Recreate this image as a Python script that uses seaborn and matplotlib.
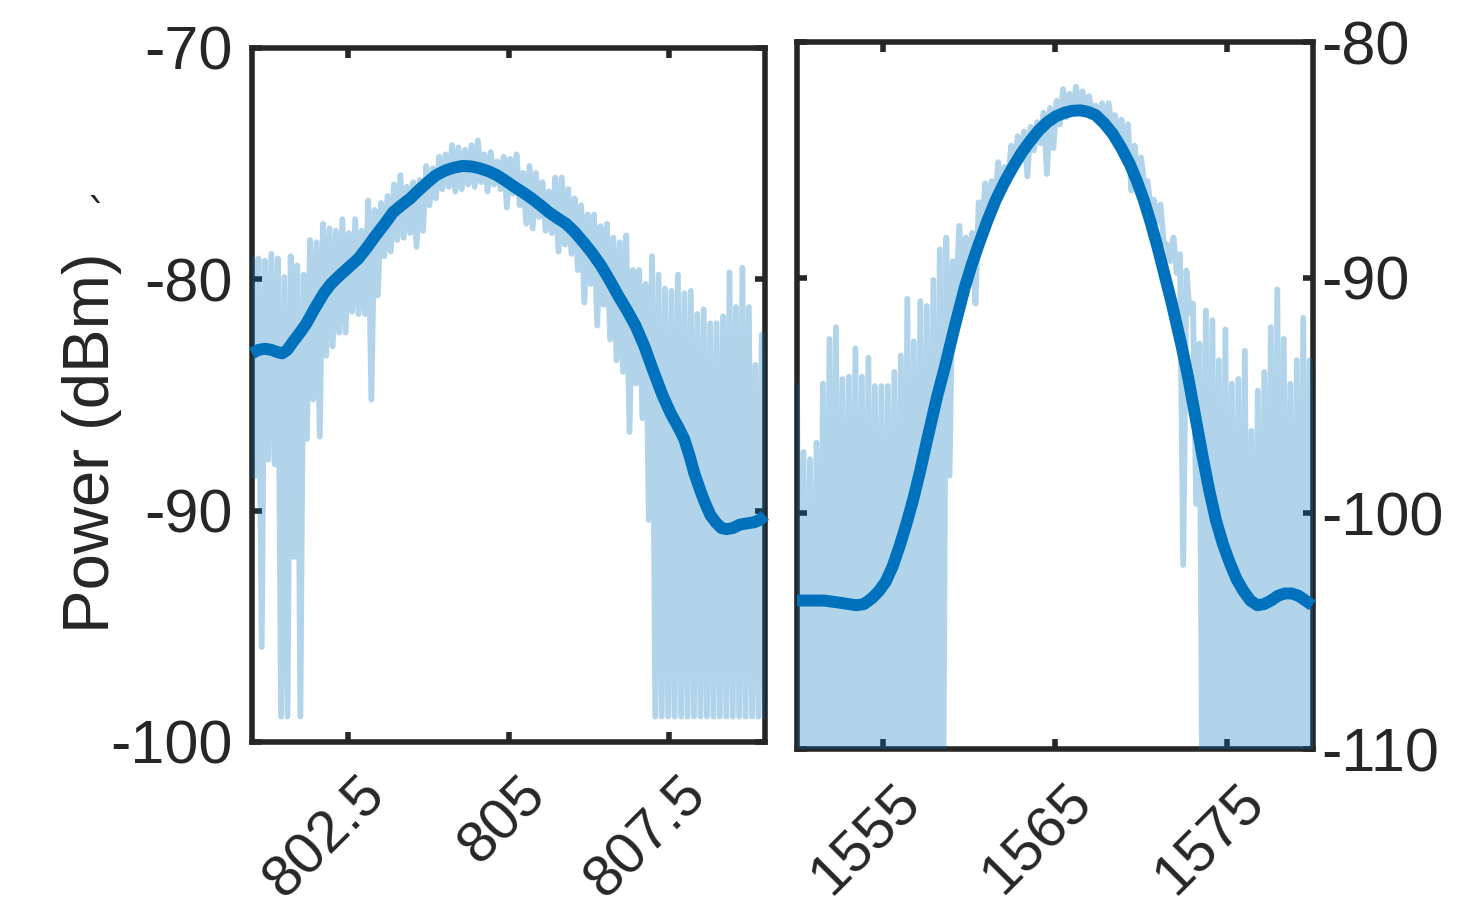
import numpy as np
import matplotlib
matplotlib.use('Agg')
import matplotlib.pyplot as plt
import matplotlib.transforms as mtransforms
import seaborn as sns

# ---- 800 nm band (left panel) ----
# raw spectrum: alternating local maxima / minima
nir_peak = [-79.1, -79.1, -79.2, -78.9, -79.1, -79.9, -79.0, -79.4, -79.8, -78.3,
            -78.4, -77.6, -77.8, -77.9, -77.4, -78.0, -77.4, -77.9, -76.6, -77.0,
            -76.7, -76.4, -75.9, -75.5, -76.0, -75.8, -75.7, -75.1, -75.2, -74.7,
            -74.6, -74.2, -74.3, -74.4, -74.2, -74.0, -74.6, -74.5, -74.9, -74.7,
            -74.8, -74.6, -75.4, -75.1, -75.4, -75.8, -76.2, -75.6, -75.6, -76.1,
            -76.5, -76.8, -77.2, -77.2, -77.7, -77.6, -78.2, -78.4, -78.1, -79.6,
            -79.6, -80.2, -79.0, -79.8, -80.4, -80.5, -79.8, -80.6, -80.5, -81.5,
            -81.3, -81.9, -81.9, -81.6, -79.7, -81.2, -79.5, -81.2, -83.7, -82.4]
nir_dip = [-88.5, -95.9, -87.8, -88.0, -98.9, -98.9, -92.0, -98.9, -86.9, -85.2,
           -86.8, -83.3, -82.9, -82.3, -82.3, -81.4, -81.5, -81.5, -85.2, -80.7,
           -79.0, -78.8, -78.3, -78.2, -78.0, -78.6, -77.9, -76.8, -76.5, -76.1,
           -76.0, -76.2, -76.1, -75.9, -76.0, -75.8, -76.2, -75.9, -76.1, -76.9,
           -76.3, -76.8, -77.6, -77.8, -77.3, -77.9, -78.0, -78.8, -78.5, -78.9,
           -79.6, -81.0, -80.2, -82.0, -81.1, -82.6, -83.5, -84.0, -86.6, -84.5,
           -86.0, -90.4, -98.9, -98.9, -98.9, -98.9, -98.9, -98.9, -98.9, -98.9,
           -98.9, -98.9, -98.9, -98.9, -98.9, -98.9, -98.9, -98.9, -98.9, -98.9]
# smoothed fit
nir_fit_x = [801.00, 801.10, 801.20, 801.30, 801.40, 801.47, 801.55, 801.64, 801.75, 801.85,
             801.98, 802.12, 802.23, 802.34, 802.50, 802.66, 802.80, 802.93, 803.07, 803.20,
             803.33, 803.47, 803.60, 803.74, 803.87, 804.01, 804.15, 804.28, 804.42, 804.55,
             804.69, 804.82, 804.95, 805.09, 805.23, 805.36, 805.50, 805.63, 805.76, 805.90,
             806.03, 806.17, 806.30, 806.44, 806.57, 806.71, 806.85, 806.98, 807.12, 807.25,
             807.40, 807.53, 807.65, 807.74, 807.82, 807.90, 808.00, 808.07, 808.15, 808.23,
             808.32, 808.40, 808.50, 808.61, 808.72, 808.83, 808.92, 809.00]
nir_fit_y = [-83.2, -83.05, -83.0, -83.05, -83.15, -83.2, -83.05, -82.7, -82.3, -81.9,
             -81.25, -80.6, -80.2, -79.9, -79.5, -79.1, -78.6, -78.1, -77.6, -77.1,
             -76.8, -76.5, -76.15, -75.8, -75.5, -75.3, -75.17, -75.1, -75.12, -75.2,
             -75.33, -75.5, -75.73, -76.0, -76.25, -76.5, -76.8, -77.1, -77.35, -77.6,
             -77.95, -78.4, -78.85, -79.4, -80.0, -80.7, -81.35, -82.0, -82.9, -83.9,
             -85.0, -85.8, -86.4, -86.9, -87.6, -88.4, -89.2, -89.7, -90.2, -90.5,
             -90.75, -90.8, -90.75, -90.6, -90.55, -90.5, -90.4, -90.2]
nir_xlim = (801, 809)
nir_ylim = (-100, -70)
nir_xticks = [802.5, 805, 807.5]
nir_xticklabels = ['802.5', '805', '807.5']
nir_yticks = [-100, -90, -80, -70]
nir_yticklabels = ['-100', '-90', '-80', '-70']

# ---- 1550 nm band (right panel) ----
cb_peak = [-94.6, -97.4, -97.7, -97.0, -94.5, -92.6, -92.1, -94.3, -94.2, -93.0,
           -94.2, -93.4, -94.6, -94.6, -94.6, -94.0, -93.3, -90.9, -92.7, -91.0,
           -91.2, -90.1, -88.8, -88.3, -89.3, -87.8, -88.3, -88.1, -86.8, -86.0,
           -85.9, -85.1, -85.3, -84.4, -84.0, -83.8, -83.6, -83.4, -83.0, -82.8,
           -82.5, -82.0, -82.2, -81.9, -82.1, -82.3, -82.7, -82.6, -82.6, -83.1,
           -83.3, -83.5, -84.4, -84.9, -85.9, -86.7, -86.9, -88.6, -88.3, -89.0,
           -89.7, -91.1, -92.8, -91.4, -91.8, -93.5, -92.2, -94.5, -94.3, -93.1,
           -96.5, -94.8, -94.0, -92.1, -90.5, -92.6, -94.5, -93.5, -91.7, -93.5]
cb_dip = [-116, -115, -117, -114, -116, -115, -118, -114, -116, -115,
          -117, -115, -114, -116, -115, -118, -114, -116, -115, -117,
          -115, -116, -114, -98.4, -91.0, -90.7, -90.0, -91.1, -88.0, -87.5,
          -87.0, -86.3, -86.0, -85.4, -85.0, -85.7, -84.6, -84.3, -85.6, -84.5,
          -83.5, -83.2, -83.0, -83.0, -83.0, -83.1, -83.3, -83.5, -83.6, -84.0,
          -84.5, -86.3, -85.5, -86.0, -87.0, -87.6, -88.5, -89.3, -89.8, -102.2,
          -91.5, -99.6, -115, -116, -114, -117, -115, -116, -118, -115,
          -114, -116, -115, -117, -114, -116, -115, -118, -116, -115]
cb_fit_x = [1550.00, 1550.80, 1551.56, 1552.06, 1552.56, 1553.00, 1553.46, 1553.90, 1554.36, 1554.76,
            1555.16, 1555.56, 1555.96, 1556.36, 1556.76, 1557.16, 1557.56, 1557.86, 1558.16, 1558.56,
            1558.86, 1559.16, 1559.46, 1559.76, 1560.16, 1560.56, 1561.06, 1561.56, 1562.06, 1562.56,
            1563.06, 1563.56, 1564.06, 1564.56, 1565.06, 1565.56, 1566.00, 1566.46, 1566.90, 1567.36,
            1567.86, 1568.36, 1568.86, 1569.36, 1569.76, 1570.16, 1570.56, 1570.96, 1571.36, 1571.76,
            1572.06, 1572.36, 1572.76, 1573.16, 1573.56, 1573.96, 1574.36, 1574.76, 1575.16, 1575.56,
            1575.96, 1576.36, 1576.76, 1577.16, 1577.56, 1577.96, 1578.36, 1578.76, 1579.16, 1579.56,
            1579.96]
cb_fit_y = [-103.7, -103.7, -103.7, -103.75, -103.8, -103.85, -103.9, -103.85, -103.6, -103.3,
            -102.9, -102.25, -101.4, -100.45, -99.4, -98.2, -96.9, -95.95, -95.0, -93.9,
            -93.0, -92.1, -91.25, -90.4, -89.45, -88.6, -87.6, -86.7, -85.95, -85.3,
            -84.7, -84.2, -83.75, -83.4, -83.15, -83.0, -82.92, -82.9, -82.96, -83.1,
            -83.45, -83.9, -84.5, -85.2, -85.9, -86.7, -87.65, -88.7, -89.85, -91.0,
            -91.95, -92.9, -94.3, -95.9, -97.5, -99.0, -100.3, -101.3, -102.1, -102.8,
            -103.3, -103.7, -103.9, -103.85, -103.7, -103.5, -103.4, -103.4, -103.5, -103.7,
            -103.9]
cb_xlim = (1550, 1580)
cb_ylim = (-110, -80)
cb_xticks = [1555, 1565, 1575]
cb_xticklabels = ['1555', '1565', '1575']
cb_yticks = [-110, -100, -90, -80]
cb_yticklabels = ['-110', '-100', '-90', '-80']

BLUE = '#0072BD'
INK = '#262626'

sns.set_style('white')
plt.rcParams['font.family'] = ['Liberation Sans', 'DejaVu Sans']
plt.rcParams['axes.unicode_minus'] = False

W, H = 1482, 915
fig = plt.figure(figsize=(W / 100, H / 100), dpi=100)
ax1 = fig.add_axes([252 / W, 1 - 742 / H, 513 / W, 694 / H])
ax2 = fig.add_axes([797 / W, 1 - 749 / H, 516 / W, 707 / H])


def draw(ax, peak, dip, xlim, fit_x, fit_y):
    raw_y = np.column_stack([peak, dip]).ravel()
    raw_x = np.linspace(xlim[0], xlim[1], raw_y.size)
    sns.lineplot(x=raw_x, y=raw_y, ax=ax, color=BLUE, alpha=0.3, lw=4.2,
                 sort=False, estimator=None, zorder=3,
                 solid_capstyle='round', solid_joinstyle='round')
    sns.lineplot(x=fit_x, y=fit_y, ax=ax, color=BLUE, lw=8.6, sort=False,
                 estimator=None, zorder=4, clip_on=False,
                 solid_capstyle='butt', solid_joinstyle='round')


draw(ax1, nir_peak, nir_dip, nir_xlim, nir_fit_x, nir_fit_y)
draw(ax2, cb_peak, cb_dip, cb_xlim, cb_fit_x, cb_fit_y)

shift = mtransforms.ScaledTranslation(7 / 72, 0, fig.dpi_scale_trans)
for ax, xl, yl, xt, xtl, yt, ytl in [
        (ax1, nir_xlim, nir_ylim, nir_xticks, nir_xticklabels, nir_yticks, nir_yticklabels),
        (ax2, cb_xlim, cb_ylim, cb_xticks, cb_xticklabels, cb_yticks, cb_yticklabels)]:
    ax.set_xlim(*xl)
    ax.set_ylim(*yl)
    ax.set_xticks(xt)
    ax.set_xticklabels(xtl, rotation=45, ha='right', va='top', rotation_mode='anchor')
    ax.set_yticks(yt)
    ax.set_yticklabels(ytl)
    for s in ax.spines.values():
        s.set_visible(True)
        s.set_linewidth(4)
        s.set_color(INK)
    ax.tick_params(direction='in', length=7, width=4, color=INK, labelcolor=INK,
                   labelsize=44, top=True, right=True, bottom=True, left=True)
    ax.tick_params(axis='x', pad=18, labelsize=42)
    for lab in ax.get_xticklabels():
        lab.set_transform(lab.get_transform() + shift)
    ax.set_xlabel('')
    ax.set_ylabel('')

ax1.tick_params(axis='y', pad=14)
ax2.tick_params(axis='y', labelleft=False, labelright=True, pad=6)

ax1.set_ylabel('Power (dBm)', fontsize=47, color=INK)
ax1.yaxis.set_label_coords(-0.253, 0.431)
fig.text(96.5 / W, 1 - 217.5 / H, '\u02cb', fontsize=30, color=INK,
         ha='center', va='center', family='DejaVu Sans')

fig.savefig('out.png', dpi=100)
